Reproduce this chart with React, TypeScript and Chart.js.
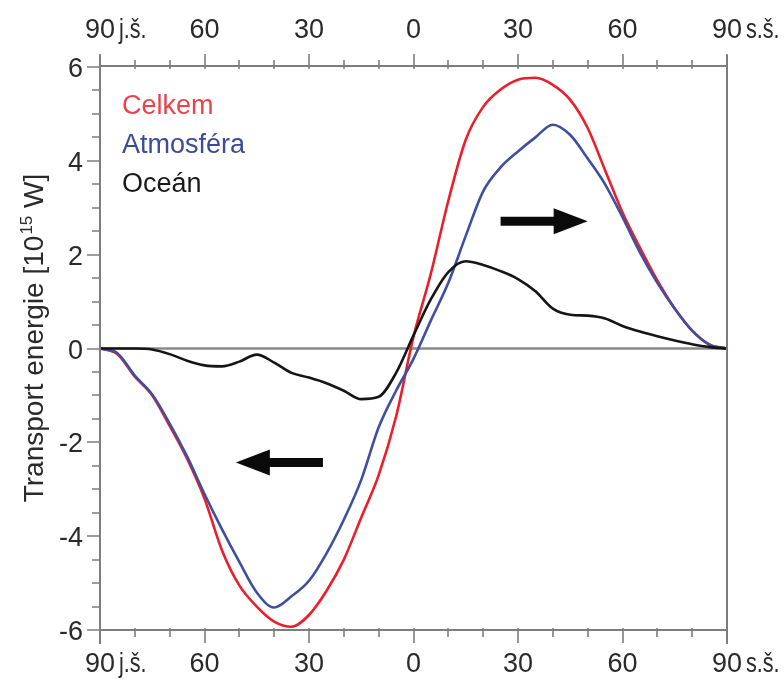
import React, { useEffect, useRef } from "react";
import { Chart, registerables } from "chart.js";

Chart.register(...registerables);

// ---- data ----
const LATITUDES = [
  -90, -85, -80, -75, -70, -65, -60, -55, -50, -45, -40, -35, -30, -25, -20, -15, -10, -5,
  0, 5, 10, 15, 20, 25, 30, 35, 40, 45, 50, 55, 60, 65, 70, 75, 80, 85, 90,
];
const TOTAL = [
  0, -0.12, -0.6, -1.0, -1.65, -2.35, -3.2, -4.3, -5.05, -5.5, -5.82, -5.93, -5.68, -5.17, -4.5,
  -3.6, -2.7, -1.45, 0.25, 1.6, 3.15, 4.45, 5.15, 5.52, 5.73, 5.77, 5.62, 5.3, 4.7, 3.8, 2.9,
  2.15, 1.45, 0.85, 0.38, 0.08, 0,
];
const ATMOSPHERE = [
  0, -0.1, -0.58, -0.98, -1.6, -2.3, -3.1, -3.85, -4.55, -5.2, -5.52, -5.28, -4.95, -4.37, -3.65,
  -2.8, -1.68, -0.9, -0.22, 0.6, 1.4, 2.4, 3.35, 3.86, 4.2, 4.5, 4.77, 4.55, 4.05, 3.5, 2.8,
  2.05, 1.4, 0.85, 0.38, 0.08, 0,
];
const OCEAN = [
  0, 0, 0, -0.02, -0.12, -0.26, -0.36, -0.38, -0.28, -0.13, -0.3, -0.52, -0.62, -0.74, -0.9,
  -1.08, -1.03, -0.52, 0.28, 1.05, 1.63, 1.86, 1.78, 1.65, 1.48, 1.22, 0.85, 0.72, 0.7, 0.64,
  0.48, 0.36, 0.26, 0.17, 0.09, 0.03, 0,
];
const SERIES_NAMES = ["Celkem", "Atmosféra", "Oceán"];
const X_MAJOR_TICKS = [-90, -60, -30, 0, 30, 60, 90];
const X_TICK_LABELS = ["90 j.š.", "60", "30", "0", "30", "60", "90 s.š."];
const Y_MAJOR_TICKS = [6, 4, 2, 0, -2, -4, -6];
const Y_TICK_LABELS = ["6", "4", "2", "0", "-2", "-4", "-6"];
const Y_TITLE_MAIN = "Transport energie [10";
const Y_TITLE_SUP = "15";
const Y_TITLE_END = " W]";
// arrows: [fromLat, toLat, value]
const ARROWS = [
  [25, 50, 2.71],
  [-26, -51, -2.43],
];

const LINE_COLORS = ["#ea1f2b", "#3f4f9e", "#151515"];
const TEXT_COLORS = ["#e9434a", "#3c4a98", "#1a1a1a"];
const FONT = '"Liberation Sans", Arial, sans-serif';
const AXIS_COLOR = "#7d7d7d";

const decorPlugin = {
  id: "decor",
  beforeDatasetsDraw(chart: any) {
    const { ctx, chartArea, scales } = chart;
    const y0 = scales.y.getPixelForValue(0);
    ctx.save();
    ctx.strokeStyle = "#8a8a8a";
    ctx.lineWidth = 2.5;
    ctx.beginPath();
    ctx.moveTo(chartArea.left, y0);
    ctx.lineTo(chartArea.right, y0);
    ctx.stroke();
    ctx.restore();
  },
  afterDatasetsDraw(chart: any) {
    const { ctx, chartArea, scales } = chart;
    const { left, right, top, bottom } = chartArea;
    const xs = scales.x;
    const ys = scales.y;
    ctx.save();
    ctx.strokeStyle = AXIS_COLOR;
    ctx.lineWidth = 2;
    ctx.lineCap = "butt";
    // frame
    ctx.beginPath();
    ctx.moveTo(left, top - 1);
    ctx.lineTo(right, top - 1);
    ctx.moveTo(left, bottom);
    ctx.lineTo(right, bottom);
    ctx.moveTo(left, top - 12);
    ctx.lineTo(left, bottom + 14);
    ctx.moveTo(right, top - 12);
    ctx.lineTo(right, bottom + 14);
    ctx.stroke();

    // x ticks (top and bottom)
    ctx.lineWidth = 1.6;
    ctx.beginPath();
    for (let v = -90; v <= 90; v += 10) {
      const px = Math.round(xs.getPixelForValue(v));
      const major = v % 30 === 0;
      const len = major ? 13 : 7;
      ctx.moveTo(px, top + 2);
      ctx.lineTo(px, top - len);
      ctx.moveTo(px, bottom - 2);
      ctx.lineTo(px, bottom + len);
    }
    // y ticks
    for (let v = -6; v <= 6.001; v += 0.5) {
      const py = Math.round(ys.getPixelForValue(v));
      const major = Math.abs(v % 2) < 1e-6;
      const len = major ? 13 : 8;
      ctx.moveTo(left - len, py);
      ctx.lineTo(left, py);
    }
    ctx.stroke();

    // x tick labels
    ctx.fillStyle = "#2a2a2a";
    ctx.font = `27px ${FONT}`;
    ctx.textBaseline = "alphabetic";
    ctx.textAlign = "left";
    X_MAJOR_TICKS.forEach((v, i) => {
      const px = xs.getPixelForValue(v);
      const label = X_TICK_LABELS[i];
      const sp = label.indexOf(" ");
      const num = sp >= 0 ? label.slice(0, sp) : label;
      const rest = sp >= 0 ? label.slice(sp + 1) : "";
      const w = ctx.measureText(num).width;
      const x0 = px - w / 2;
      [38, 672].forEach((by) => {
        ctx.fillText(num, x0, by);
        if (rest) {
          ctx.save();
          ctx.translate(x0 + w + 4, by);
          ctx.scale(0.8, 1);
          ctx.fillText(rest, 0, 0);
          ctx.restore();
        }
      });
    });

    // y tick labels
    ctx.textAlign = "right";
    Y_MAJOR_TICKS.forEach((v, i) => {
      const py = ys.getPixelForValue(v);
      ctx.fillText(Y_TICK_LABELS[i], 83, py + 10);
    });

    // y title
    ctx.save();
    ctx.translate(33, (top + bottom) / 2 - 10);
    ctx.rotate(-Math.PI / 2);
    ctx.textAlign = "left";
    const fMain = `28px ${FONT}`;
    const fSup = `17px ${FONT}`;
    ctx.font = fMain;
    const wa = ctx.measureText(Y_TITLE_MAIN).width;
    const wb = ctx.measureText(Y_TITLE_END).width;
    ctx.font = fSup;
    const ws = ctx.measureText(Y_TITLE_SUP).width;
    let tx = -(wa + ws + wb) / 2;
    ctx.font = fMain;
    ctx.fillText(Y_TITLE_MAIN, tx, 10);
    tx += wa;
    ctx.font = fSup;
    ctx.fillText(Y_TITLE_SUP, tx + 1, -1);
    tx += ws + 1;
    ctx.font = fMain;
    ctx.fillText(Y_TITLE_END, tx, 10);
    ctx.restore();

    // legend
    ctx.textAlign = "left";
    ctx.font = `27px ${FONT}`;
    const baselines = [114, 153, 192];
    SERIES_NAMES.forEach((name, i) => {
      ctx.fillStyle = TEXT_COLORS[i];
      ctx.fillText(name, 122, baselines[i]);
    });

    // arrows
    ctx.fillStyle = "#0a0a0a";
    ARROWS.forEach(([from, to, val]) => {
      const x1 = xs.getPixelForValue(from);
      const x2 = xs.getPixelForValue(to);
      const py = ys.getPixelForValue(val);
      const dir = Math.sign(x2 - x1);
      const headLen = 34;
      const halfShaft = 4.5;
      const halfHead = 13;
      const hx = x2 - dir * headLen;
      ctx.beginPath();
      ctx.moveTo(x1, py - halfShaft);
      ctx.lineTo(hx, py - halfShaft);
      ctx.lineTo(hx, py - halfHead);
      ctx.lineTo(x2, py);
      ctx.lineTo(hx, py + halfHead);
      ctx.lineTo(hx, py + halfShaft);
      ctx.lineTo(x1, py + halfShaft);
      ctx.closePath();
      ctx.fill();
    });
    ctx.restore();
  },
};

export default function App() {
  const ref = useRef<HTMLCanvasElement>(null);
  useEffect(() => {
    const mk = (vals: number[]) => LATITUDES.map((x, i) => ({ x, y: vals[i] }));
    const chart = new Chart(ref.current as HTMLCanvasElement, {
      type: "line",
      data: {
        datasets: [
          { label: SERIES_NAMES[0], data: mk(TOTAL), borderColor: LINE_COLORS[0], order: 2 },
          { label: SERIES_NAMES[1], data: mk(ATMOSPHERE), borderColor: LINE_COLORS[1], order: 1 },
          { label: SERIES_NAMES[2], data: mk(OCEAN), borderColor: LINE_COLORS[2], order: 0 },
        ].map((d) => ({
          ...d,
          borderWidth: 2.6,
          pointRadius: 0,
          fill: false,
          cubicInterpolationMode: "monotone" as const,
        })),
      },
      options: {
        responsive: false,
        animation: false,
        devicePixelRatio: 1,
        layout: { padding: { left: 100, right: 57, top: 67, bottom: 50 } },
        plugins: { legend: { display: false }, tooltip: { enabled: false } },
        scales: {
          x: { type: "linear", min: -90, max: 90, display: false },
          y: { type: "linear", min: -6, max: 6, display: false },
        },
      },
      plugins: [decorPlugin],
    });
    return () => chart.destroy();
  }, []);
  return (
    <div style={{ position: "absolute", left: 0, top: 0, width: 784, height: 680, background: "#fff" }}>
      <canvas ref={ref} width={784} height={680} style={{ display: "block", width: 784, height: 680 }} />
    </div>
  );
}
